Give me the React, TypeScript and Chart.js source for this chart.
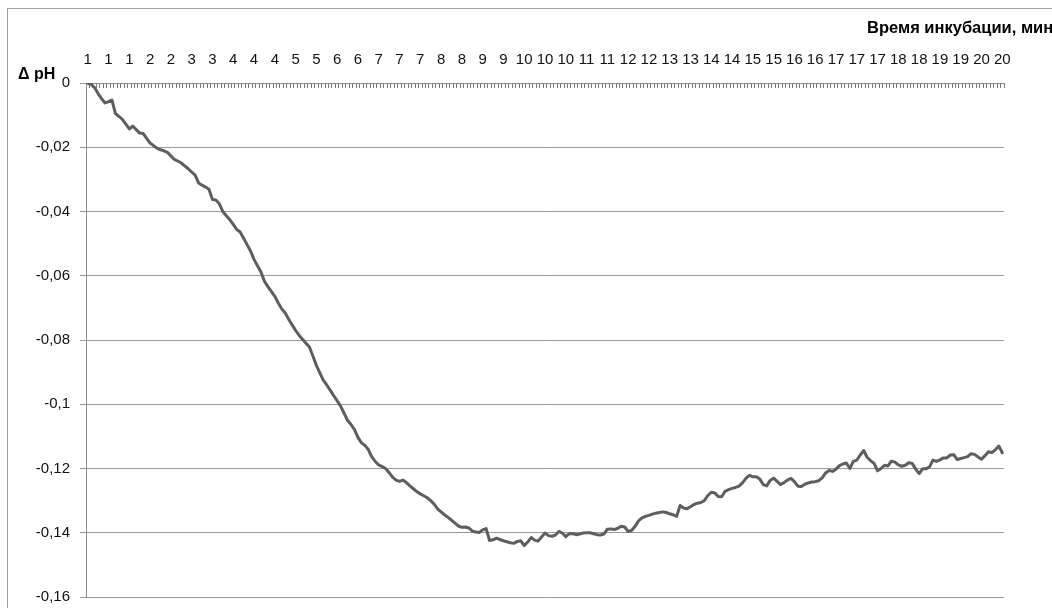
import React, { useEffect, useRef } from 'react';
import { Chart, registerables } from 'chart.js';

Chart.register(...registerables);

// Minute labels shown along the top axis (one every LABEL_EVERY samples)
const TICK_LABELS = [1, 1, 1, 2, 2, 3, 3, 4, 4, 4, 5, 5, 6, 6, 7, 7, 7, 8, 8, 9, 9, 10, 10, 10, 11, 11, 12, 12, 13, 13, 14, 14, 15, 15, 16, 16, 17, 17, 17, 18, 18, 19, 19, 20, 20];
const LABEL_EVERY = 6;

// Δ pH readings
const DELTA_PH = [
  0, -0.0004, -0.0015, -0.0033, -0.0049, -0.0062, -0.0058, -0.0053, -0.0095, -0.0104,
  -0.0113, -0.0128, -0.0143, -0.0134, -0.0145, -0.0156, -0.0157, -0.0172, -0.0187, -0.0195,
  -0.0203, -0.0208, -0.0211, -0.0216, -0.0227, -0.0238, -0.0243, -0.0249, -0.0258, -0.0267,
  -0.0277, -0.0287, -0.0311, -0.0318, -0.0324, -0.0331, -0.0363, -0.0364, -0.0376, -0.0400,
  -0.0413, -0.0425, -0.0440, -0.0456, -0.0464, -0.0483, -0.0503, -0.0523, -0.0549, -0.0569,
  -0.0588, -0.0617, -0.0634, -0.0649, -0.0664, -0.0685, -0.0703, -0.0716, -0.0735, -0.0753,
  -0.0770, -0.0785, -0.0798, -0.0810, -0.0822, -0.0850, -0.0879, -0.0902, -0.0925, -0.0940,
  -0.0956, -0.0973, -0.0989, -0.1006, -0.1028, -0.1050, -0.1063, -0.1079, -0.1103, -0.1120,
  -0.1128, -0.1141, -0.1164, -0.1178, -0.1189, -0.1194, -0.1200, -0.1213, -0.1227, -0.1236,
  -0.1240, -0.1236, -0.1244, -0.1254, -0.1263, -0.1272, -0.1279, -0.1285, -0.1291, -0.1300,
  -0.1311, -0.1326, -0.1335, -0.1344, -0.1352, -0.1361, -0.1370, -0.1379, -0.1383, -0.1382,
  -0.1385, -0.1394, -0.1398, -0.1399, -0.1391, -0.1387, -0.1424, -0.1422, -0.1417, -0.1421,
  -0.1425, -0.1428, -0.1431, -0.1433, -0.1427, -0.1425, -0.1440, -0.1429, -0.1415, -0.1423,
  -0.1426, -0.1413, -0.1401, -0.1409, -0.1411, -0.1407, -0.1396, -0.1401, -0.1412, -0.1403,
  -0.1403, -0.1406, -0.1404, -0.1401, -0.1400, -0.1400, -0.1403, -0.1406, -0.1407, -0.1404,
  -0.1389, -0.1388, -0.1390, -0.1386, -0.1380, -0.1382, -0.1396, -0.1393, -0.1380, -0.1363,
  -0.1354, -0.1349, -0.1346, -0.1342, -0.1339, -0.1337, -0.1335, -0.1337, -0.1341, -0.1344,
  -0.1349, -0.1315, -0.1323, -0.1325, -0.1319, -0.1312, -0.1308, -0.1306, -0.1300, -0.1284,
  -0.1274, -0.1276, -0.1287, -0.1288, -0.1271, -0.1266, -0.1262, -0.1259, -0.1255, -0.1245,
  -0.1231, -0.1221, -0.1226, -0.1226, -0.1233, -0.1250, -0.1254, -0.1237, -0.1230, -0.1240,
  -0.1250, -0.1244, -0.1236, -0.1231, -0.1241, -0.1255, -0.1256, -0.1249, -0.1245, -0.1242,
  -0.1241, -0.1238, -0.1229, -0.1214, -0.1206, -0.1209, -0.1202, -0.1191, -0.1186, -0.1183,
  -0.1200, -0.1178, -0.1174, -0.1158, -0.1144, -0.1165, -0.1176, -0.1184, -0.1207, -0.1200,
  -0.1190, -0.1192, -0.1177, -0.1180, -0.1189, -0.1193, -0.1190, -0.1182, -0.1184, -0.1202,
  -0.1216, -0.1201, -0.1201, -0.1195, -0.1174, -0.1178, -0.1173, -0.1167, -0.1167, -0.1158,
  -0.1157, -0.1172, -0.1169, -0.1166, -0.1163, -0.1154, -0.1156, -0.1164, -0.1171, -0.1160,
  -0.1148, -0.1150, -0.1142, -0.1130, -0.1151,
];

const Y_MIN = -0.16;
const Y_MAX = 0;
const Y_STEP = 0.02;
const X_TITLE = 'Время инкубации, мин';
const Y_TITLE = 'Δ pH';

const FONT = '"Liberation Sans", Arial, sans-serif';

export default function App() {
  const ref = useRef<HTMLCanvasElement>(null);

  useEffect(() => {
    const canvas = ref.current;
    if (!canvas) return;
    const categories = DELTA_PH.map((_, i) =>
      i % LABEL_EVERY === 0 && TICK_LABELS[i / LABEL_EVERY] !== undefined
        ? String(TICK_LABELS[i / LABEL_EVERY])
        : ''
    );

    const framePlugin = {
      id: 'frameAndTitles',
      beforeDraw(chart: any) {
        const { ctx, width, height } = chart;
        ctx.save();
        ctx.fillStyle = '#ffffff';
        ctx.fillRect(0, 0, width, height);
        ctx.strokeStyle = '#a0a0a0';
        ctx.lineWidth = 1;
        ctx.strokeRect(0.5, 0.5, width - 1, height - 1);
        ctx.restore();
      },
      afterDraw(chart: any) {
        const { ctx } = chart;
        ctx.save();
        ctx.fillStyle = '#000000';
        ctx.textBaseline = 'middle';
        ctx.textAlign = 'left';
        ctx.font = `bold 16.5px ${FONT}`;
        ctx.fillText(X_TITLE, 860, 20);
        ctx.font = `bold 16px ${FONT}`;
        ctx.fillText(Y_TITLE, 11, 67);
        ctx.restore();
      },
    };

    const chart = new Chart(canvas, {
      type: 'line',
      data: {
        labels: categories,
        datasets: [
          {
            data: DELTA_PH,
            borderColor: '#5e5e5e',
            borderWidth: 3,
            pointRadius: 0,
            tension: 0,
            fill: false,
            borderJoinStyle: 'round',
            borderCapStyle: 'round',
          },
        ],
      },
      options: {
        responsive: false,
        animation: false,
        devicePixelRatio: 1,
        layout: { padding: { left: 0, top: 0, right: 103, bottom: 51 } },
        plugins: {
          legend: { display: false },
          tooltip: { enabled: false },
          title: { display: false },
        },
        scales: {
          x: {
            type: 'category',
            position: 'top',
            offset: true,
            grid: {
              display: true,
              drawOnChartArea: false,
              drawTicks: true,
              tickLength: -5,
              tickWidth: 1,
              tickColor: '#7a7a7a',
              color: '#7a7a7a',
              offset: true,
            },
            border: { display: true, color: '#8c8c8c' },
            ticks: {
              autoSkip: false,
              maxRotation: 0,
              minRotation: 0,
              padding: 19,
              color: '#111111',
              font: { family: FONT, size: 15 },
            },
            afterFit: (s: any) => {
              s.height = 75;
              s.paddingLeft = 0;
              s.paddingRight = 0;
            },
          },
          y: {
            min: Y_MIN,
            max: Y_MAX,
            ticks: {
              stepSize: Y_STEP,
              padding: 10,
              color: '#111111',
              font: { family: FONT, size: 15 },
              callback: (v: any) => {
                const n = Number(Number(v).toFixed(2));
                return String(n).replace('.', ',');
              },
            },
            grid: { color: '#999999', tickLength: 6 },
            border: { display: true, color: '#8c8c8c' },
            afterFit: (s: any) => {
              s.width = 79;
              s.paddingTop = 0;
              s.paddingBottom = 0;
            },
          },
        },
      },
      plugins: [framePlugin],
    } as any);

    return () => chart.destroy();
  }, []);

  return (
    <div
      style={{
        position: 'fixed',
        left: 0,
        top: 0,
        width: 1052,
        height: 608,
        overflow: 'hidden',
        background: '#ffffff',
      }}
    >
      <canvas
        ref={ref}
        width={1100}
        height={640}
        style={{ position: 'absolute', left: 7, top: 8 }}
      />
    </div>
  );
}
